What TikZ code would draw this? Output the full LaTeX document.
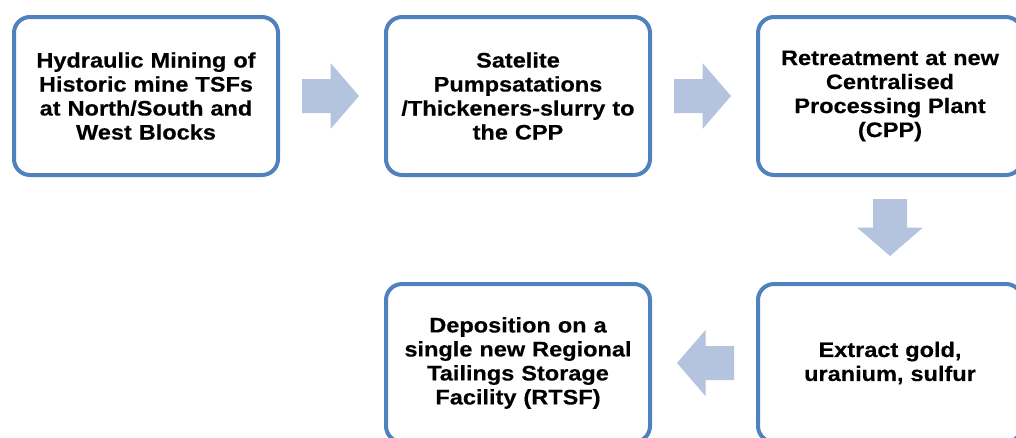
\documentclass[tikz,border=0pt]{standalone}
\usepackage{fontspec}
\setmainfont{Liberation Sans}[FakeStretch=1.12, BoldFeatures={FakeStretch=1.12, FakeBold=0.4}]
\usetikzlibrary{calc}
\definecolor{boxline}{RGB}{79,129,189}
\definecolor{arrowfill}{RGB}{180,196,222}
\tikzset{
  stepbox/.style={draw=boxline, line width=4pt, rounded corners=16pt,
    fill=white, minimum width=264pt, minimum height=158pt,
    align=center, text width=255pt,
    font=\bfseries\fontsize{21}{24}\selectfont},
  barrow/.pic={
    \fill[arrowfill] (-28.5,-17) -- (0,-17) -- (0,-33) -- (28.5,0)
      -- (0,33) -- (0,17) -- (-28.5,17) -- cycle;
  }
}
\begin{document}
\begin{tikzpicture}[x=1pt, y=-1pt]
  \useasboundingbox (0,0) rectangle (1016,437);
  \clip (0,0) rectangle (1016,437);
  \fill[white] (0,0) rectangle (1016,437);

  % process steps
  \node[stepbox] (b1) at (146,96) {Hydraulic Mining of\\Historic mine TSFs\\at North/South and\\West Blocks};
  \node[stepbox] (b2) at (518,96) {Satelite\\Pumpsatations\\/Thickeners-slurry to\\the CPP};
  \node[stepbox] (b3) at (890,96) {Retreatment at new\\Centralised\\Processing Plant\\(CPP)};
  \node[stepbox] (b5) at (890,363) {Extract gold,\\uranium, sulfur};
  \node[stepbox] (b4) at (518,363) {Deposition on a\\single new Regional\\Tailings Storage\\Facility (RTSF)};

  % block arrows between the steps
  \pic (a12) at ($(b1.east)!0.5!(b2.west)+(-1.5,0)$) {barrow};
  \pic (a23) at ($(b2.east)!0.5!(b3.west)+(-1.5,0)$) {barrow};
  \pic[rotate=-90] (a35) at ($(b3.south)!0.5!(b5.north)+(0,-2)$) {barrow};
  \pic[rotate=180] (a54) at ($(b5.west)!0.5!(b4.east)+(1.5,0)$) {barrow};
\end{tikzpicture}
\end{document}
